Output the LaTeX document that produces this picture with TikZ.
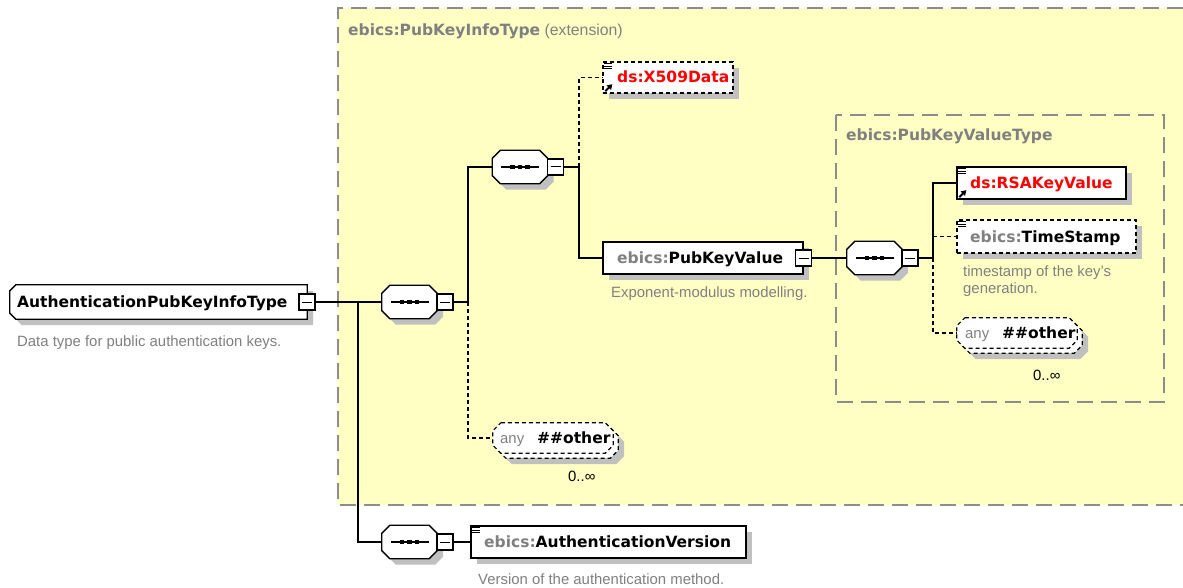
\documentclass[tikz,border=0pt]{standalone}
\usepackage{fontspec}
\setmainfont{Liberation Sans}
\newfontfamily\boldfam{DejaVu Sans}
\usetikzlibrary{shadows,arrows.meta}
\definecolor{bgyellow}{RGB}{255,255,196}
\definecolor{framegray}{RGB}{140,140,140}
\definecolor{txtgray}{RGB}{128,128,128}
\definecolor{shadowgray}{RGB}{192,192,192}
\definecolor{refred}{RGB}{255,0,0}
% octagon outline round a named node: #1 node, #2 chamfer
\newcommand\octpath[2]{([shift={(#2,0)}]#1.north west) -- ([shift={(-#2,0)}]#1.north east) -- ([shift={(0,#2)}]#1.north east) -- ([shift={(0,-#2)}]#1.south east) -- ([shift={(-#2,0)}]#1.south east) -- ([shift={(#2,0)}]#1.south west) -- ([shift={(0,-#2)}]#1.south west) -- ([shift={(0,#2)}]#1.north west) -- cycle}
\newcommand\octshape[3]{%
  \fill[shadowgray,transform canvas={shift={(6pt,-6pt)}}] \octpath{#1}{#2};
  \draw[black,line width=1.3pt,fill=white,#3] \octpath{#1}{#2};}
\newcommand\seqglyph[1]{%
  \draw[line width=1.2pt] ([xshift=-19pt]#1.center) -- ([xshift=19pt]#1.center);
  \foreach \d in {-7.5,0,7.5}{\fill ([xshift=\d pt]#1.center) ++(-2.3,-2.3) rectangle ++(4.6,4.6);}}
\newcommand\docmark[1]{%
  \foreach \k in {2.5,5,7.5}{\draw[line width=1pt] ([shift={(2,\k)}]#1.north west) -- ++(7.5,0);}}
\newcommand\refmark[1]{%
  \draw[line width=2pt,-{Triangle[length=5pt,width=6pt]}] ([shift={(3,-2.5)}]#1.south west) -- ++(7,-7);}
\begin{document}
\begin{tikzpicture}[x=1pt,y=-1pt,
  shd/.style={drop shadow={shadow xshift=6pt,shadow yshift=-6pt,opacity=1,fill=shadowgray}},
  elembox/.style={rectangle,draw=black,line width=1.3pt,fill=white,inner sep=0pt,shd},
  optional/.style={dash pattern=on 4pt off 3pt},
  seqbox/.style={rectangle,inner sep=0pt,minimum width=55pt,minimum height=33pt},
  anybox/.style={rectangle,inner sep=0pt,minimum width=120pt,minimum height=30pt},
  minusbox/.style={rectangle,draw=black,line width=1.1pt,fill=white,inner sep=0pt,minimum width=16pt,minimum height=16pt,path picture={\draw[line width=1pt] ([xshift=-5pt]path picture bounding box.center) -- ([xshift=5pt]path picture bounding box.center);}},
  nm/.style={anchor=base west,inner sep=0pt,font=\boldfam\bfseries\fontsize{15.5}{18}\selectfont},
  dsc/.style={anchor=base west,inner sep=0pt,text=txtgray,font=\fontsize{14.9}{18}\selectfont},
  regionframe/.style={draw=framegray,line width=2pt,dash pattern=on 16pt off 8pt},
  conn/.style={draw=black,line width=1.3pt},
  dconn/.style={conn,dash pattern=on 4pt off 3pt},
]
\useasboundingbox (0,0) rectangle (1183,588);
\fill[white] (0,0) rectangle (1183,588);
% extension region
\fill[bgyellow] (338,8) rectangle (1183,505);
\draw[regionframe] (1183,8) -- (338,8) -- (338,505) -- (1183,505);
\node[anchor=base west,inner sep=0pt,text=txtgray,font=\fontsize{15.8}{18}\selectfont] (exttitle) at (348,35.5) {{\boldfam\bfseries\fontsize{15.5}{18}\selectfont ebics:PubKeyInfoType} (extension)};
% inner type region
\draw[regionframe,fill=bgyellow] (836,115) rectangle (1164,402);
\node[nm,text=txtgray] (valtitle) at (846,140.5) {ebics:PubKeyValueType};

% root
\node[rectangle,inner sep=0pt,minimum width=297pt,minimum height=34pt] (root) at (158.5,302) {};
\fill[shadowgray,transform canvas={shift={(6pt,-6pt)}}] ([shift={(6,0)}]root.north west) -- (root.north east) -- (root.south east) -- ([shift={(6,0)}]root.south west) -- ([shift={(0,-6)}]root.south west) -- ([shift={(0,6)}]root.north west) -- cycle;
\draw[line width=1.3pt,fill=white] ([shift={(6,0)}]root.north west) -- (root.north east) -- (root.south east) -- ([shift={(6,0)}]root.south west) -- ([shift={(0,-6)}]root.south west) -- ([shift={(0,6)}]root.north west) -- cycle;
\node[minusbox] (rootm) at (307,302) {};
\node[nm] (roott) at (17,307.5) {AuthenticationPubKeyInfoType};
\node[dsc] (rootd) at (17,346) {Data type for public authentication keys.};

% sequences
\node[seqbox] (seq1) at (409.5,302) {};
\node[seqbox] (seq2) at (520,167) {};
\node[seqbox] (seq3) at (874.5,258) {};
\node[seqbox] (seq4) at (409.5,542) {};
\octshape{seq1}{8}{}\octshape{seq2}{8}{}\octshape{seq3}{8}{}\octshape{seq4}{8}{}
\seqglyph{seq1}\seqglyph{seq2}\seqglyph{seq3}\seqglyph{seq4}
\node[minusbox] (seq1m) at (445,302) {};
\node[minusbox] (seq2m) at (555.5,167) {};
\node[minusbox] (seq3m) at (910,258) {};
\node[minusbox] (seq4m) at (445,542) {};

% X509Data
\node[elembox,optional,minimum width=130pt,minimum height=31pt] (x509) at (668,77.5) {};
\node[nm,text=refred] (x509t) at (617,83) {ds:X509Data};
\docmark{x509}\refmark{x509}

% PubKeyValue
\node[elembox,minimum width=200pt,minimum height=32pt] (pkv) at (703,258) {};
\node[minusbox] (pkvm) at (803.5,258) {};
\node[nm] (pkvt) at (617,263.5) {{\color{txtgray}ebics:}PubKeyValue};
\node[dsc] (pkvd) at (611,297.5) {Exponent-modulus modelling.};

% RSAKeyValue
\node[elembox,minimum width=169pt,minimum height=32pt] (rsa) at (1041.5,183) {};
\node[nm,text=refred] (rsat) at (970,188.5) {ds:RSAKeyValue};
\docmark{rsa}\refmark{rsa}

% TimeStamp
\node[elembox,optional,minimum width=179pt,minimum height=33pt] (ts) at (1046.5,236.5) {};
\node[nm] (tst) at (970,242) {{\color{txtgray}ebics:}TimeStamp};
\docmark{ts}
\node[dsc] (tsd1) at (963,276) {timestamp of the key's};
\node[dsc] (tsd2) at (963,293) {generation.};

% any ##other (inner)
\node[anybox] (anyIb) at (1022,338) {};
\node[anybox] (anyI) at (1017,333) {};
\octshape{anyIb}{8}{line width=1.2pt,optional}
\draw[line width=1.2pt,optional,fill=white] \octpath{anyI}{8};
\node[dsc] (anyIa) at (965,338.5) {any};
\node[nm] (anyIo) at (1002,338.5) {\#\#other};
\node[dsc,text=black] (anyIc) at (1033,380) {0..∞};

% any ##other (outer)
\node[anybox] (anyOb) at (558,443) {};
\node[anybox] (anyO) at (553,438) {};
\octshape{anyOb}{8}{line width=1.2pt,optional}
\draw[line width=1.2pt,optional,fill=white] \octpath{anyO}{8};
\node[dsc] (anyOa) at (500,443.5) {any};
\node[nm] (anyOo) at (537,443.5) {\#\#other};
\node[dsc,text=black] (anyOc) at (568,481) {0..∞};

% AuthenticationVersion
\node[elembox,minimum width=275pt,minimum height=32pt] (av) at (608.5,542) {};
\node[nm] (avt) at (484,547.5) {{\color{txtgray}ebics:}AuthenticationVersion};
\docmark{av}
\node[dsc] (avd) at (478,584) {Version of the authentication method.};

% connectors
\coordinate (busA) at (358,302);
\coordinate (busB) at (468,302);
\coordinate (busC) at (579,167);
\coordinate (busD) at (933,258);
\draw[conn] (rootm.east) -- (seq1.west);
\draw[conn] (busA) |- (seq4.west);
\draw[conn] (seq1m.east) -- (busB) |- (seq2.west);
\draw[dconn] (busB) |- (anyO.west);
\draw[conn] (seq2m.east) -- (busC) |- (pkv.west);
\draw[dconn] (busC) |- (x509.west);
\draw[conn] (pkvm.east) -- (seq3.west);
\draw[conn] (seq3m.east) -- (busD) |- (rsa.west);
\draw[dconn] (busD) |- (ts.west);
\draw[dconn] (busD) |- (anyI.west);
\draw[conn] (seq4m.east) -- (av.west);
\end{tikzpicture}
\end{document}
